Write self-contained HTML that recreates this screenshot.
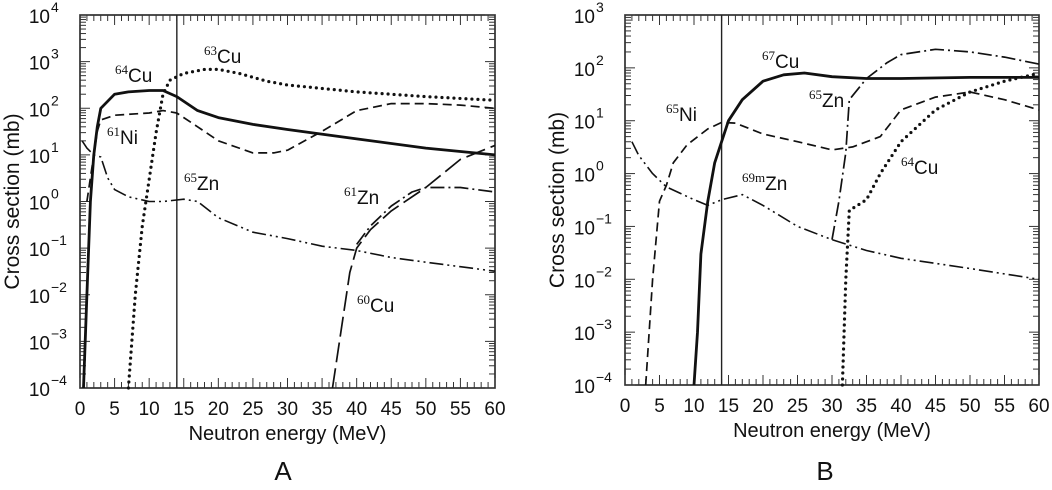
<!DOCTYPE html>
<html><head><meta charset="utf-8"><style>
body{margin:0;background:#fff;width:1052px;height:490px;overflow:hidden}
svg{display:block}
text{font-family:"Liberation Sans",sans-serif;fill:#111}
.sup{font-family:"Liberation Serif",serif;font-size:13px}
</style></head><body>
<svg id="chart" width="1052" height="490" xmlns="http://www.w3.org/2000/svg"></svg>
<script>
// Panel A data (x in MeV, y in mb)
const aCu64X=[0.5,1,1.5,2,2.5,3,5,7,10,12,14,17,20,25,30,40,50,60];
const aCu64Y=[1e-4,1e-2,1,10,40,100,200,224,240,240,178,89,63,45,35,22,14,10];
const aCu63X=[7,8,9,10,11,12,13,15,18,20,23,27,30,40,50,60];
const aCu63Y=[1e-4,1e-2,0.3,3,30,200,400,560,680,680,560,380,316,224,178,148];
const aNi61X=[1,2,2.5,3,5,10,12,14,17,20,25,28,30,35,40,45,50,55,60];
const aNi61Y=[1,10,32,56,71,79,89,79,40,20,11,11,12.6,32,89,126,126,117,100];
const aZn65X=[0.3,1,2,3,4,5,7,10,12,15,17,20,25,30,35,40,45,50,55,60];
const aZn65Y=[20,14,10,9,3.2,1.8,1.26,1.0,1.0,1.12,1.0,0.45,0.22,0.16,0.11,0.089,0.063,0.05,0.04,0.032];
const aZn61X=[40,42,45,48,50,55,60];
const aZn61Y=[0.12,0.3,0.8,1.6,2,2,1.6];
const aCu60X=[36.5,38,39,40,42,45,50,55,60];
const aCu60Y=[1e-4,3e-3,0.03,0.1,0.25,0.63,2,8,16];
// Panel B data
const bCu67X=[10,10.5,11,12,13,14,15,17,20,23,26,30,35,40,50,60];
const bCu67Y=[1e-4,1e-3,0.03,0.3,1.6,4,10,25,56,74,80,68,63,63,66,66];
const bNi65X=[3,4,5,6,7,9,12,14,16,20,25,30,33,37,40,45,50,55,60];
const bNi65Y=[1e-4,0.01,0.3,0.6,1.6,3.5,7,9.3,9,5.6,4,2.8,3.2,5,16,28,35,25,16];
const bZn69X=[1,2,4,6,10,12,14,17,20,25,30,35,40,50,60];
const bZn69Y=[4,2.2,1,0.56,0.32,0.25,0.32,0.4,0.25,0.1,0.056,0.035,0.025,0.016,0.01];
const bZn65X=[30,31,32,32.5,35,38,40,45,50,55,60];
const bZn65Y=[0.056,0.3,2.5,25,63,126,178,224,200,160,118];
const bCu64X=[31.5,32,32.5,35,37,40,45,50,55,60];
const bCu64Y=[1e-4,0.01,0.2,0.32,1,4,16,35,56,79];
const xTicks=[0,5,10,15,20,25,30,35,40,45,50,55,60];

const svg=document.getElementById('chart');
const NS='http://www.w3.org/2000/svg';
function mk(tag,attrs,parent){const e=document.createElementNS(NS,tag);for(const k in attrs)e.setAttribute(k,attrs[k]);(parent||svg).appendChild(e);return e;}

function panel(p){
  const g=mk('g',{});
  
  
  const L=p.l,R=p.r,T=p.t,B=p.b;
  const sx=v=>L+(v/60)*(R-L);
  const sy=v=>B-(Math.log10(v)-p.ymin)/(p.ymax-p.ymin)*(B-T);
  const fr=mk('rect',{x:L,y:T,width:R-L,height:B-T,fill:'none',stroke:'#222','stroke-width':1.6},g);
  
  
  for(let v=0;v<=60;v++){
    const len=v%5===0?10:6;
    mk('line',{x1:sx(v),x2:sx(v),y1:B,y2:B-len,stroke:'#333','stroke-width':1},g);
    mk('line',{x1:sx(v),x2:sx(v),y1:T,y2:T+len,stroke:'#333','stroke-width':1},g);
  }
  xTicks.forEach(v=>{
    const t=mk('text',{x:sx(v),y:B+27,'text-anchor':'middle','font-size':19},g);
    t.textContent=v;
    
    
  });
  for(let d=p.ymin;d<=p.ymax;d++){
    const y=sy(Math.pow(10,d));
    mk('line',{x1:L,x2:L+10,y1:y,y2:y,stroke:'#333'},g);
    mk('line',{x1:R,x2:R-10,y1:y,y2:y,stroke:'#333'},g);
    if(d<p.ymax)for(let m=2;m<10;m++){const yy=sy(m*Math.pow(10,d));
      mk('line',{x1:L,x2:L+6,y1:yy,y2:yy,stroke:'#333'},g);
      mk('line',{x1:R,x2:R-6,y1:yy,y2:yy,stroke:'#333'},g);}
    const t=mk('text',{x:L-30,y:y+8,'text-anchor':'end','font-size':19},g);
    t.textContent='10';
    
    
    const s=mk('text',{x:L-29,y:y-3,'font-size':14},g);
    s.textContent=d<0?'\u2212'+(-d):String(d);
  }
  const vl=mk('line',{x1:sx(14),x2:sx(14),y1:T,y2:B,stroke:'#222','stroke-width':1.4},g);
  
  
  p.series.forEach(s=>{
    const pts=s.x.map((xv,i)=>sx(xv).toFixed(1)+','+sy(Math.max(s.y[i],Math.pow(10,p.ymin))).toFixed(1)).join(' ');
    const pl=mk('polyline',{points:pts,fill:'none',stroke:'#111','stroke-width':s.w,'stroke-dasharray':s.dash,'stroke-linecap':s.cap||'butt','stroke-linejoin':'round'},g);
    
    
  });
  p.labels.forEach(l=>{
    const t=mk('text',{x:l[0],y:l[1],'font-size':19},g);
    t.innerHTML='<tspan class="sup" dy="-8">'+l[2]+'</tspan><tspan dy="8">'+l[3]+'</tspan>';
    
    
  });
  const xt=mk('text',{x:(L+R)/2,y:B+52,'text-anchor':'middle','font-size':20},g);
  xt.textContent='Neutron energy (MeV)';
  
  
  const yt=mk('text',{x:0,y:0,'text-anchor':'middle','font-size':21,transform:`translate(${p.ytx},${(T+B)/2}) rotate(-90)`},g);
  yt.textContent='Cross section (mb)';
  
  
  const pl=mk('text',{x:p.plx,y:480,'text-anchor':'middle','font-size':26},g);
  pl.textContent=p.letter;
  
  
}

panel({name:'panel-a',l:80,r:495,t:15,b:388,ymin:-4,ymax:4,ytx:19,plx:283,letter:'A',
 series:[
  {name:'cu64-line',x:aCu64X,y:aCu64Y,w:2.8,dash:''},
  {name:'cu63-line',x:aCu63X,y:aCu63Y,w:3.2,dash:'0 6',cap:'round'},
  {name:'ni61-line',x:aNi61X,y:aNi61Y,w:1.7,dash:'9 5'},
  {name:'zn65-line',x:aZn65X,y:aZn65Y,w:1.6,dash:'14 4 2 4 2 4'},
  {name:'zn61-line',x:aZn61X,y:aZn61Y,w:1.7,dash:'14 4 2 4'},
  {name:'cu60-line',x:aCu60X,y:aCu60Y,w:1.7,dash:'20 6'}],
 labels:[[115,82,'64','Cu'],[204,63,'63','Cu'],[107,144,'61','Ni'],[184,190,'65','Zn'],[344,204,'61','Zn'],[357,312,'60','Cu']]});

panel({name:'panel-b',l:625,r:1039,t:15,b:385,ymin:-4,ymax:3,ytx:564,plx:825,letter:'B',
 series:[
  {name:'cu67-line',x:bCu67X,y:bCu67Y,w:2.8,dash:''},
  {name:'ni65-line',x:bNi65X,y:bNi65Y,w:1.7,dash:'9 5'},
  {name:'zn69m-line',x:bZn69X,y:bZn69Y,w:1.6,dash:'14 4 2 4 2 4'},
  {name:'zn65-line',x:bZn65X,y:bZn65Y,w:1.7,dash:'14 4 2 4'},
  {name:'cu64-line',x:bCu64X,y:bCu64Y,w:3.2,dash:'0 6',cap:'round'}],
 labels:[[762,68,'67','Cu'],[666,121,'65','Ni'],[809,107,'65','Zn'],[742,190,'69m','Zn'],[901,174,'64','Cu']]});
</script>
</body></html>
